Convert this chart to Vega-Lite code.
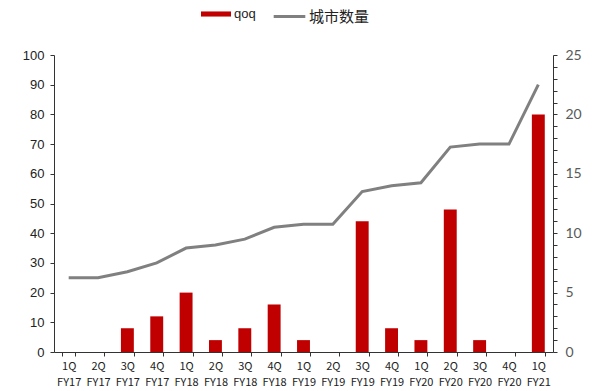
{
  "$schema": "https://vega.github.io/schema/vega-lite/v6.json",
  "width": 499,
  "height": 297,
  "autosize": "none",
  "padding": {"left": 54, "top": 55, "right": 39, "bottom": 39},
  "background": "white",
  "config": {
    "view": {"stroke": null},
    "axis": {"grid": false}
  },
  "data": {
    "values": [
      {"period": "1Q FY17", "qoq": 0, "cities": 25},
      {"period": "2Q FY17", "qoq": 0, "cities": 25},
      {"period": "3Q FY17", "qoq": 2, "cities": 27},
      {"period": "4Q FY17", "qoq": 3, "cities": 30},
      {"period": "1Q FY18", "qoq": 5, "cities": 35},
      {"period": "2Q FY18", "qoq": 1, "cities": 36},
      {"period": "3Q FY18", "qoq": 2, "cities": 38},
      {"period": "4Q FY18", "qoq": 4, "cities": 42},
      {"period": "1Q FY19", "qoq": 1, "cities": 43},
      {"period": "2Q FY19", "qoq": 0, "cities": 43},
      {"period": "3Q FY19", "qoq": 11, "cities": 54},
      {"period": "4Q FY19", "qoq": 2, "cities": 56},
      {"period": "1Q FY20", "qoq": 1, "cities": 57},
      {"period": "2Q FY20", "qoq": 12, "cities": 69},
      {"period": "3Q FY20", "qoq": 1, "cities": 70},
      {"period": "4Q FY20", "qoq": 0, "cities": 70},
      {"period": "1Q FY21", "qoq": 20, "cities": 90}
    ]
  },
  "encoding": {
    "x": {
      "field": "period",
      "type": "ordinal",
      "sort": null,
      "scale": {"paddingInner": 0.56, "paddingOuter": 0.28},
      "axis": {
        "title": null,
        "labelAngle": 0,
        "labelExpr": "isString(datum.value) ? split(datum.value, ' ') : ''",
        "labelFont": "Noto Sans CJK JP",
        "labelFontSize": 11,
        "labelColor": "#222222",
        "labelLineHeight": 16,
        "labelPadding": 4,
        "tickBand": "extent",
        "tickSize": 4,
        "tickColor": "#333333",
        "domainColor": "#333333",
        "domainWidth": 1
      }
    }
  },
  "layer": [
    {
      "mark": {"type": "bar", "color": "#C00000"},
      "encoding": {
        "y": {
          "field": "qoq",
          "type": "quantitative",
          "scale": {"domain": [0, 25]},
          "axis": {
            "orient": "right",
            "title": null,
            "values": [0,1,2,3,4,5,6,7,8,9,10,11,12,13,14,15,16,17,18,19,20,21,22,23,24,25],
            "labelExpr": "datum.value % 5 === 0 ? datum.label : ''",
            "labelFont": "Lato",
            "labelFontSize": 14,
            "labelColor": "#595959",
            "labelPadding": 8,
            "tickSize": 4,
            "tickColor": "#333333",
            "domainColor": "#333333"
          }
        },
        "fill": {
          "datum": "qoq",
          "scale": {"domain": ["qoq"], "range": ["#C00000"]},
          "legend": {
            "title": null,
            "orient": "none",
            "legendX": 147,
            "legendY": -56,
            "symbolType": "M-1,-0.17L1,-0.17L1,0.17L-1,0.17Z",
            "symbolSize": 900,
            "symbolStrokeWidth": 0,
            "labelFont": "Liberation Sans",
            "labelFontSize": 13,
            "labelColor": "#222222",
            "labelOffset": 3
          }
        }
      }
    },
    {
      "mark": {"type": "line", "color": "#808080", "strokeWidth": 3},
      "encoding": {
        "y": {
          "field": "cities",
          "type": "quantitative",
          "scale": {"domain": [0, 100]},
          "axis": {
            "orient": "left",
            "title": null,
            "values": [0,10,20,30,40,50,60,70,80,90,100],
            "labelFont": "Liberation Sans",
            "labelFontSize": 13,
            "labelColor": "#222222",
            "labelPadding": 6,
            "tickSize": 4,
            "tickColor": "#333333",
            "domainColor": "#333333"
          }
        },
        "stroke": {
          "datum": "城市数量",
          "scale": {"domain": ["城市数量"], "range": ["#808080"]},
          "legend": {
            "title": null,
            "orient": "none",
            "legendX": 218,
            "legendY": -56,
            "symbolType": "stroke",
            "symbolSize": 1000,
            "symbolStrokeWidth": 3,
            "labelFont": "Noto Sans CJK SC",
            "labelFontSize": 15,
            "labelColor": "#222222",
            "labelOffset": 2
          }
        }
      }
    }
  ],
  "resolve": {"scale": {"y": "independent", "fill": "independent", "stroke": "independent"}}
}
